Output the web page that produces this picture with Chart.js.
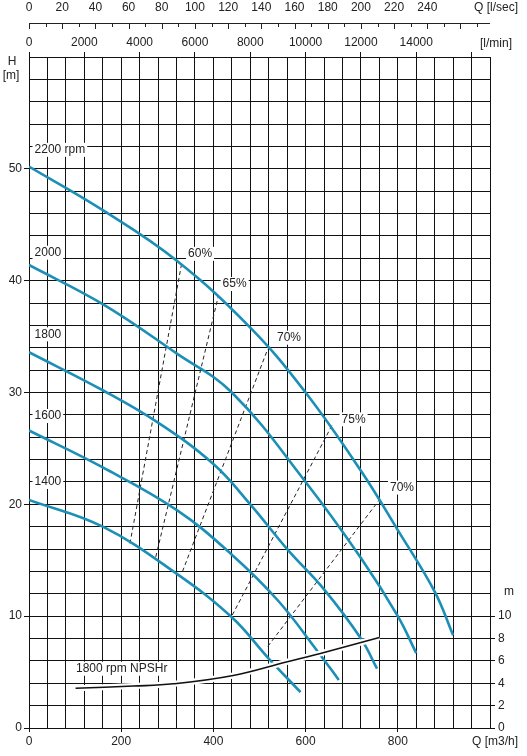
<!DOCTYPE html>
<html><head><meta charset="utf-8">
<script src="https://cdn.jsdelivr.net/npm/chart.js@4/dist/chart.umd.min.js"></script>
<style>html,body{margin:0;padding:0;background:#fff}#wrap{width:527px;height:756px}</style>
</head><body><div id="wrap"><canvas id="c"></canvas></div>
<script>
// Q in m3/h, H in m
const q2200 = [0, 160, 320, 480, 600, 720, 800, 880, 920];
const h2200 = [50.2, 46.3, 41.8, 35.8, 30.0, 23.0, 17.7, 12.2, 8.3];
const q2000 = [0, 160, 320, 440, 600, 720, 800, 840];
const h2000 = [41.4, 37.9, 33.5, 30.0, 22.0, 15.2, 10.0, 6.7];
const q1800 = [0, 160, 280, 400, 480, 560, 640, 720, 755];
const h1800 = [33.6, 30.2, 27.3, 23.6, 20.0, 16.0, 12.4, 8.0, 5.3];
const q1600 = [0, 160, 320, 440, 540, 627, 672];
const h1600 = [26.6, 23.3, 19.5, 15.5, 11.4, 6.8, 4.3];
const q1400 = [0, 160, 320, 440, 518, 589];
const h1400 = [20.4, 18.0, 13.8, 9.9, 6.3, 3.2];
const qNpsh = [101, 226, 313, 443, 558, 644, 760];
const hNpsh = [3.55, 3.75, 3.95, 4.7, 5.9, 6.8, 8.1];
// efficiency iso-lines [lower, upper]
const effLabels = ['60%', '65%', '70%', '75%', '70%'];
const effQ = [[219, 331], [275, 410], [333, 518], [441, 659], [518, 760]];
const effH = [[16.5, 41.5], [15.3, 38.5], [14.0, 33.9], [10.1, 27.2], [7.3, 20.4]];
const effLabelPos = [[345, 42.4], [420, 39.7], [538, 34.9], [678, 27.6], [783, 21.5]];
const speedLabels = ['2200 rpm', '2000', '1800', '1600', '1400'];
const speedLabelH = [51.7, 42.5, 35.2, 27.9, 22.0];
const qTicks = [0, 200, 400, 600, 800];
const hTicks = [0, 10, 20, 30, 40, 50];
const npshTicks = [0, 2, 4, 6, 8, 10];
const lminTicks = [0, 2000, 4000, 6000, 8000, 10000, 12000, 14000];
const lsecTicks = [0, 20, 40, 60, 80, 100, 120, 140, 160, 180, 200, 220, 240];

const BLUE = '#1c8fb7';
const FONT = '"Liberation Sans", Arial, sans-serif';
const pts = (qs, hs) => qs.map((q, i) => ({x: q, y: hs[i]}));
const curve = (qs, hs, order) => ({data: pts(qs, hs), borderColor: BLUE, borderWidth: 2.6, pointRadius: 0, showLine: true, tension: 0.4, order, fill: false});
const datasets = [
  curve(q2200, h2200, 5), curve(q2000, h2000, 5), curve(q1800, h1800, 5), curve(q1600, h1600, 5), curve(q1400, h1400, 5),
  {data: pts(qNpsh, hNpsh), borderColor: '#fff', borderWidth: 6, pointRadius: 0, showLine: true, tension: 0.4, order: 2},
  {data: pts(qNpsh, hNpsh), borderColor: '#111', borderWidth: 1.6, pointRadius: 0, showLine: true, tension: 0.4, order: 1}
];
effQ.forEach((qq, i) => datasets.push({data: pts(qq, effH[i]), borderColor: '#222', borderWidth: 1, borderDash: [4, 3], pointRadius: 0, showLine: true, order: 6}));

const textPlugin = {
  id: 'texts',
  afterDatasetsDraw(chart) {
    const {ctx, scales: {x, y}} = chart;
    ctx.save();
    ctx.font = '12px ' + FONT;
    ctx.textBaseline = 'middle';
    const label = (t, px, py, align) => {
      ctx.textAlign = align || 'left';
      const w = ctx.measureText(t).width;
      const x0 = align === 'right' ? px - w : px;
      ctx.fillStyle = '#fff';
      ctx.fillRect(x0 - 2, py - 7, w + 4, 14);
      ctx.fillStyle = '#222';
      ctx.fillText(t, px, py);
    };
    speedLabels.forEach((t, i) => label(t, x.getPixelForValue(12), y.getPixelForValue(speedLabelH[i])));
    effLabels.forEach((t, i) => label(t, x.getPixelForValue(effLabelPos[i][0]), y.getPixelForValue(effLabelPos[i][1])));
    label('1800 rpm NPSHr', x.getPixelForValue(102), y.getPixelForValue(5.3));
    ctx.restore();
  },
  afterDraw(chart) {
    const {ctx, scales: {x, y}} = chart;
    ctx.save();
    ctx.font = '12px ' + FONT;
    ctx.fillStyle = '#222';
    ctx.textBaseline = 'middle';
    ctx.textAlign = 'center';
    ctx.fillText('H', 12, 62);
    ctx.fillText('[m]', 11, 76);
    ctx.fillText('m', 509, y.getPixelForValue(12.2));
    ctx.textAlign = 'right';
    ctx.fillText('Q [m3/h]', 518, 742);
    ctx.fillText('[l/min]', 512, 44);
    ctx.fillText('Q [l/sec]', 518, 8);
    // l/sec axis (1 l/s = 3.6 m3/h)
    const ly = 23;
    ctx.strokeStyle = '#222';
    ctx.lineWidth = 1;
    ctx.beginPath();
    ctx.moveTo(x.left, ly + 0.5); ctx.lineTo(x.right, ly + 0.5);
    for (let v = 0; v <= 270; v += 10) {
      const px = Math.round(x.getPixelForValue(v * 3.6)) + 0.5;
      ctx.moveTo(px, ly); ctx.lineTo(px, ly + (v % 20 === 0 ? 6 : 4));
    }
    ctx.stroke();
    ctx.textAlign = 'center';
    lsecTicks.forEach(v => ctx.fillText(String(v), x.getPixelForValue(v * 3.6), 8));
    ctx.restore();
  }
};

new Chart(document.getElementById('c'), {
  type: 'scatter',
  data: {datasets},
  options: {
    responsive: true, maintainAspectRatio: false, animation: false,
    layout: {padding: {top: 30, left: 0, right: 0, bottom: 0}},
    plugins: {legend: {display: false}, tooltip: {enabled: false}},
    scales: {
      x: {
        type: 'linear', position: 'bottom', min: 0, max: 1000,
        afterBuildTicks: s => { s.ticks = []; for (let v = 0; v <= 1000; v += 40) s.ticks.push({value: v}); },
        afterFit: s => { s.height = 28; },
        ticks: {autoSkip: false, maxRotation: 0, color: '#222', font: {family: FONT, size: 12}, padding: 2,
          callback: v => qTicks.includes(v) ? String(v) : ''},
        grid: {color: '#111', lineWidth: 1, tickLength: 4, tickColor: c => (c.tick && qTicks.includes(c.tick.value)) ? '#111' : 'rgba(0,0,0,0)'},
        border: {color: '#111'}
      },
      x2: {
        type: 'linear', position: 'top', min: 0, max: 1000 * 1000 / 60,
        afterBuildTicks: s => { s.ticks = []; for (let v = 0; v <= 16000; v += 2000) s.ticks.push({value: v}); },
        afterFit: s => { s.height = 27; },
        ticks: {autoSkip: false, maxRotation: 0, color: '#222', font: {family: FONT, size: 12}, padding: 2,
          callback: v => lminTicks.includes(v) ? String(v) : ''},
        grid: {drawOnChartArea: false, color: '#111', tickLength: 5},
        border: {display: false}
      },
      y: {
        type: 'linear', position: 'left', min: 0, max: 60,
        afterBuildTicks: s => { s.ticks = []; for (let v = 0; v <= 60; v += 2) s.ticks.push({value: v}); },
        afterFit: s => { s.width = 29; },
        ticks: {autoSkip: false, color: '#222', font: {family: FONT, size: 12}, padding: 2,
          callback: v => hTicks.includes(v) ? String(v) : ''},
        grid: {color: '#111', lineWidth: 1, tickLength: 5, tickColor: c => (c.tick && hTicks.includes(c.tick.value)) ? '#111' : 'rgba(0,0,0,0)'},
        border: {color: '#111'}
      },
      y2: {
        type: 'linear', position: 'right', min: 0, max: 60,
        afterBuildTicks: s => { s.ticks = []; for (let v = 0; v <= 60; v += 2) s.ticks.push({value: v}); },
        afterFit: s => { s.width = 37; },
        ticks: {autoSkip: false, color: '#222', font: {family: FONT, size: 12}, padding: 3,
          callback: v => npshTicks.includes(v) ? String(v) : ''},
        grid: {drawOnChartArea: false, tickLength: 5, tickColor: c => (c.tick && npshTicks.includes(c.tick.value)) ? '#111' : 'rgba(0,0,0,0)'},
        border: {color: '#111'}
      }
    }
  },
  plugins: [textPlugin]
});
</script></body></html>
